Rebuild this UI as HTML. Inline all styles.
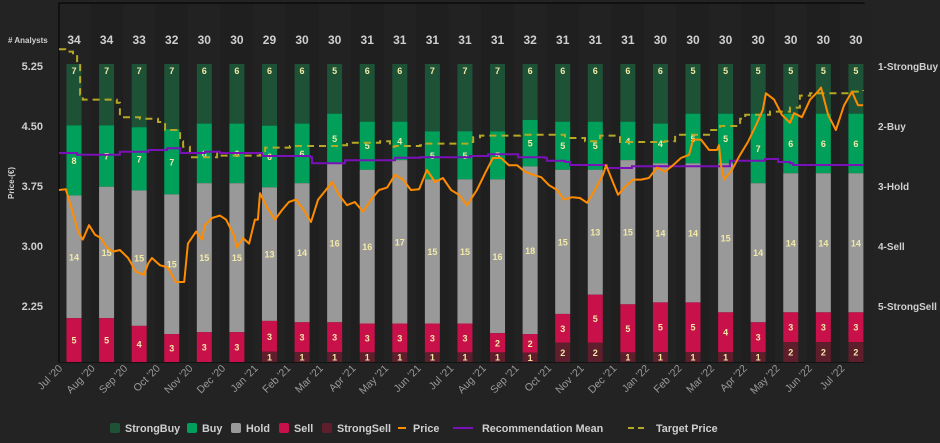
<!DOCTYPE html>
<html><head><meta charset="utf-8"><style>
body{margin:0;background:#232323;width:940px;height:443px;overflow:hidden;font-family:"Liberation Sans",sans-serif;}
svg{display:block}
</style></head><body>
<svg id="chart" width="940" height="443"></svg>
<script>
const analystCounts=[34,34,33,32,30,30,29,30,30,31,31,31,31,31,32,31,31,31,30,30,30,30,30,30,30];
const strongBuy=[7,7,7,7,6,6,6,6,5,6,6,7,7,7,6,6,6,6,6,5,5,5,5,5,5];
const buy=[8,7,7,7,6,6,6,6,5,5,4,5,5,5,5,5,5,4,4,5,5,7,6,6,6];
const hold=[14,15,15,15,15,15,13,14,16,16,17,15,15,16,18,15,13,15,14,14,15,14,14,14,14];
const sell=[5,5,4,3,3,3,3,3,3,3,3,3,3,2,2,3,5,5,5,5,4,3,3,3,3];
const strongSell=[0,0,0,0,0,0,1,1,1,1,1,1,1,1,1,2,2,1,1,1,1,1,2,2,2];
const monthLabels=["Jul '20","Aug '20","Sep '20","Oct '20","Nov '20","Dec '20","Jan '21","Feb '21","Mar '21","Apr '21","May '21","Jun '21","Jul '21","Aug '21","Sep '21","Oct '21","Nov '21","Dec '21","Jan '22","Feb '22","Mar '22","Apr '22","May '22","Jun '22","Jul '22"];
const priceTicks=[5.25,4.50,3.75,3.00,2.25];
const ratingTicks=["1-StrongBuy","2-Buy","3-Hold","4-Sell","5-StrongSell"];
const priceT=[0.06,0.26,0.44,0.62,0.76,0.94,1.12,1.29,1.47,1.65,1.85,2.09,2.32,2.56,2.68,2.79,3.03,3.26,3.5,3.74,3.85,4.09,4.26,4.35,4.56,4.79,4.97,5.21,5.29,5.47,5.65,5.82,5.91,5.97,6.18,6.41,6.62,6.82,7.03,7.26,7.47,7.68,7.91,8.09,8.29,8.53,8.76,9.0,9.24,9.47,9.71,9.94,10.18,10.41,10.65,10.88,11.12,11.35,11.59,11.82,12.06,12.35,12.59,12.82,13.06,13.29,13.53,13.76,14.0,14.24,14.47,14.71,14.91,15.15,15.38,15.59,15.82,16.06,16.15,16.32,16.5,16.71,16.94,17.18,17.41,17.65,17.88,18.12,18.35,18.59,18.71,18.94,19.18,19.41,19.47,19.53,19.62,19.85,20.09,20.32,20.56,20.76,20.85,21.09,21.32,21.56,21.68,21.91,22.15,22.38,22.47,22.68,22.91,23.15,23.38,23.56,23.71];
const priceV=[3.70,3.71,3.45,3.18,3.08,3.26,3.14,3.10,2.98,2.93,2.95,2.85,2.68,2.64,2.78,2.85,2.76,2.73,2.55,2.55,3.03,3.18,3.08,3.26,3.35,3.38,3.33,3.13,2.98,3.10,3.03,3.33,3.33,3.66,3.48,3.33,3.45,3.55,3.58,3.45,3.30,3.58,3.70,3.80,3.64,3.51,3.55,3.43,3.58,3.70,3.73,3.89,3.83,3.70,3.71,3.95,3.80,3.85,3.70,3.64,3.51,3.70,3.91,4.10,4.10,4.01,4.01,3.93,3.89,3.86,3.76,3.70,3.58,3.61,3.60,3.54,3.70,3.89,4.01,3.83,3.64,3.74,3.83,3.83,3.85,3.98,3.93,4.01,4.10,4.14,4.33,4.33,4.20,4.20,4.26,4.01,3.83,3.95,4.14,4.30,4.51,4.70,4.91,4.83,4.64,4.54,4.66,4.61,4.83,4.93,4.98,4.64,4.45,4.76,4.93,4.76,4.76];
const targetT=[0.06,0.24,0.47,0.59,0.68,0.76,1.76,1.85,2.44,2.97,3.18,3.47,3.62,3.71,3.91,4.71,4.79,5.97,6.12,6.85,8.03,8.32,8.53,9.5,9.65,9.79,9.94,10.68,10.82,12.15,12.24,12.44,13.62,14.79,14.94,15.53,15.97,16.56,17.88,18.18,19.21,19.5,20.09,20.24,20.97,21.56,21.85,22.15,23.32,23.71];
const targetV=[5.46,5.43,5.39,5.29,4.89,4.83,4.79,4.61,4.59,4.55,4.45,4.45,4.31,4.24,4.11,4.16,4.13,4.14,4.23,4.25,4.25,4.26,4.29,4.31,4.31,4.24,4.25,4.26,4.28,4.30,4.36,4.38,4.39,4.39,4.35,4.31,4.38,4.30,4.31,4.39,4.45,4.50,4.59,4.64,4.68,4.73,4.88,4.91,4.93,4.95];
const recT=[0.06,0.59,1.85,2.68,3.24,3.62,4.35,4.79,5.91,6.03,7.44,7.5,8.32,8.47,9.79,9.94,10.68,12.15,12.68,13.47,13.56,14.35,14.41,14.94,15.09,16.12,16.18,16.85,16.91,19.79,19.79,20.68,20.82,21.12,21.21,21.56,21.65,23.71];
const recV=[2.45,2.48,2.43,2.40,2.37,2.45,2.43,2.45,2.45,2.50,2.52,2.62,2.62,2.57,2.57,2.53,2.52,2.50,2.47,2.47,2.52,2.53,2.58,2.60,2.65,2.65,2.70,2.70,2.67,2.65,2.58,2.58,2.55,2.55,2.60,2.62,2.65,2.65];

const NS="http://www.w3.org/2000/svg";
const svg=document.getElementById('chart');
const L=59,R=864,T=3,B=362,BT=64;
const xT=t=>57+34*t;
const barX=i=>74+32.58*i;
const yP=p=>66+(5.25-p)*80;
const yR=r=>66+(r-1)*60;
function mk(tag,attrs,parent){const e=document.createElementNS(NS,tag);for(const k in attrs)e.setAttribute(k,attrs[k]);(parent||svg).appendChild(e);return e;}
function txt(s,attrs,parent){const e=mk('text',attrs,parent);e.textContent=s;return e;}

const plot=mk('rect',{x:L,y:T,width:R-L,height:B-T,fill:'#1e1e1e',stroke:'#000','stroke-width':1});


for(let i=0;i<25;i++){
  const band=mk('rect',{x:Math.max(L+0.5,barX(i)-16.3),y:T+1,width:32.6,height:B-T-1,fill:i%2?'#1f1f1f':'#222222'});
  
  
}
const cats=[strongBuy,buy,hold,sell,strongSell];
const cols=['#1d5236','#00a05a','#999999','#c8104a','#5f1e2c'];
const segNames=['strongbuy','buy','hold','sell','strongsell'];
for(let i=0;i<analystCounts.length;i++){
  const tot=analystCounts[i];
  let y=BT;const cx=barX(i);
  const g=mk('g',{});
  
  
  for(let c=0;c<5;c++){
    const v=cats[c][i];if(!v)continue;
    const h=v/tot*(B-BT);
    const r=mk('rect',{x:cx-7.5,y:y,width:15,height:h,fill:cols[c]},g);
    
    
    const t=txt(v,{x:cx,y:c==0?y+10:y+h/2+3.5,fill:'#f2e9a6','font-size':9,'font-weight':'bold','text-anchor':'middle'},g);
    
    
    y+=h;
  }
  const a=txt(tot,{x:cx,y:44,fill:'#cfcfcf','font-size':12,'font-weight':'bold','text-anchor':'middle'});
  
  
}
const ah=txt('# Analysts',{x:8,y:43,fill:'#cfcfcf','font-size':8,'font-weight':'bold'});


priceTicks.forEach(p=>{const t=txt(p.toFixed(2),{x:43,y:yP(p)+4,fill:'#cfcfcf','font-size':11,'font-weight':'bold','text-anchor':'end'});

});
ratingTicks.forEach((s,i)=>{const t=txt(s,{x:878,y:yR(i+1)+4,fill:'#cfcfcf','font-size':10,'font-weight':'bold'});

});
const yt=txt('Price-(€)',{x:0,y:0,fill:'#cfcfcf','font-size':8,'font-weight':'bold','text-anchor':'middle',transform:'translate(14,183) rotate(-90)'});


monthLabels.forEach((s,i)=>{const t=txt(s,{x:0,y:0,fill:'#9a9a9a','font-size':10.5,'text-anchor':'end',transform:`translate(${63+32.6*i},${369}) rotate(-45)`});

});
function pts(ts,vs,f){let s='';ts.forEach((t,i)=>{s+=xT(t).toFixed(1)+','+f(vs[i]).toFixed(1)+' ';});return s;}
function stepPts(ts,vs,f){let s='';ts.forEach((t,i)=>{if(i>0)s+=xT(t).toFixed(1)+','+f(vs[i-1]).toFixed(1)+' ';s+=xT(t).toFixed(1)+','+f(vs[i]).toFixed(1)+' ';});return s;}
const tl=mk('polyline',{points:stepPts(targetT,targetV,yP),fill:'none',stroke:'#b5a824','stroke-width':2,'stroke-dasharray':'7,5'});


const rl=mk('polyline',{points:stepPts(recT,recV,yR),fill:'none',stroke:'#7a10b8','stroke-width':2});


const pl=mk('polyline',{points:pts(priceT,priceV,yP),fill:'none',stroke:'#ff8c00','stroke-width':2,'stroke-linejoin':'round'});


const lg=mk('g',{});


const legendBoxes=[['StrongBuy',110,'#1d5236'],['Buy',187,'#00a05a'],['Hold',231,'#999999'],['Sell',279,'#c8104a'],['StrongSell',322,'#5f1e2c']];
legendBoxes.forEach(([s,x,c])=>{const g=mk('g',{},lg);


mk('rect',{x:x,y:423,width:10,height:10,rx:2,fill:c},g);
txt(s,{x:x+15,y:432,fill:'#cfcfcf','font-size':10.8,'font-weight':'bold'},g);});
const lineLeg=[['Price',398,'#ff8c00','',8,15],['Recommendation Mean',453,'#7a10b8','',20,29],['Target Price',628,'#b5a824','6,4',20,28]];
lineLeg.forEach(([s,x,c,d,w,o])=>{const g=mk('g',{},lg);


mk('line',{x1:x,x2:x+w,y1:428,y2:428,stroke:c,'stroke-width':2,'stroke-dasharray':d},g);
txt(s,{x:x+o,y:432,fill:'#cfcfcf','font-size':10.8,'font-weight':'bold'},g);});
</script>
</body></html>
